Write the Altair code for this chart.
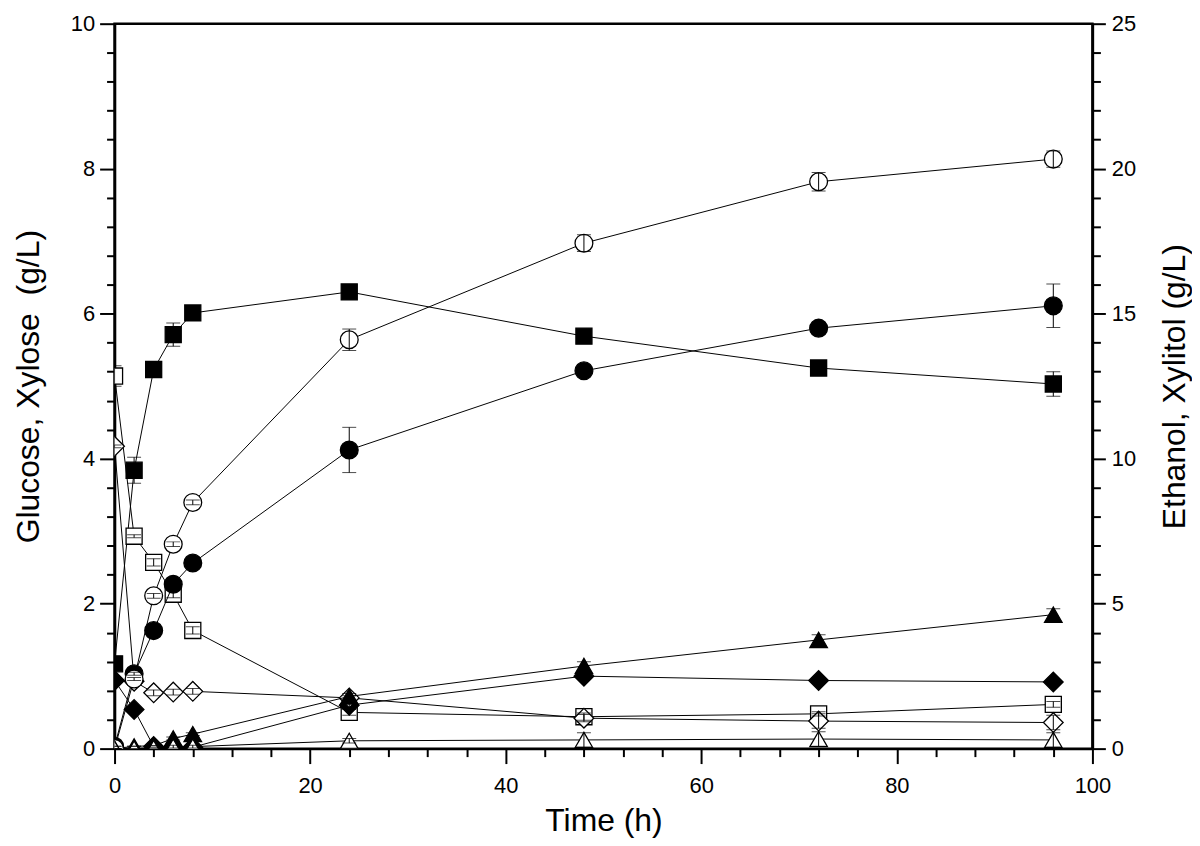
import altair as alt
import pandas as pd

# ---------------- data ----------------
time_h = [0, 2, 4, 6, 8, 24, 48, 72, 96]

# left axis (g/L): glucose & xylose
glucose_a = [1.17, 3.84, 5.23, 5.71, 6.01, 6.30, 5.69, 5.25, 5.03]
glucose_a_err = [0.03, 0.18, 0.03, 0.16, 0.03, 0.05, 0.04, 0.06, 0.17]
glucose_b = [5.14, 2.93, 2.57, 2.13, 1.63, 0.50, 0.44, 0.48, 0.61]
glucose_b_err = [0.14, 0.02, 0.05, 0.05, 0.05, 0.04, 0.05, 0.03, 0.04]
xylose_a = [0.94, 0.54, 0.03, 0.02, 0.02, 0.60, 1.00, 0.94, 0.92]
xylose_a_err = [0.02, 0.02, 0.0, 0.0, 0.0, 0.03, 0.03, 0.03, 0.03]
xylose_b = [4.17, 0.93, 0.77, 0.78, 0.79, 0.70, 0.42, 0.38, 0.36]
xylose_b_err = [0.02, 0.02, 0.04, 0.04, 0.04, 0.03, 0.05, 0.1, 0.1]

# right axis (g/L): ethanol & xylitol
ethanol_a = [0.08, 2.58, 4.07, 5.67, 6.40, 10.30, 13.03, 14.50, 15.27]
ethanol_a_err = [0.0, 0.05, 0.05, 0.05, 0.05, 0.78, 0.1, 0.2, 0.75]
ethanol_b = [0.0, 2.40, 5.27, 7.05, 8.49, 14.10, 17.43, 19.55, 20.33]
ethanol_b_err = [0.0, 0.05, 0.08, 0.08, 0.08, 0.37, 0.29, 0.32, 0.28]
xylitol_a = [0.0, 0.08, 0.10, 0.35, 0.50, 1.80, 2.85, 3.75, 4.62]
xylitol_a_err = [0.0, 0.0, 0.0, 0.05, 0.05, 0.1, 0.15, 0.18, 0.2]
xylitol_b = [0.0, 0.0, 0.02, 0.07, 0.07, 0.27, 0.30, 0.33, 0.30]
xylitol_b_err = [0.0, 0.0, 0.0, 0.05, 0.05, 0.08, 0.25, 0.25, 0.25]

# ---------------- styles ----------------
marker_size = {"square": 260, "circle": 320, "diamond": 390, "triangle-up": 310}

left_series = [
    ("Glucose A", glucose_a, glucose_a_err, "square", "black"),
    ("Glucose B", glucose_b, glucose_b_err, "square", "white"),
    ("Xylose A", xylose_a, xylose_a_err, "diamond", "black"),
    ("Xylose B", xylose_b, xylose_b_err, "diamond", "white"),
]
right_series = [
    ("Ethanol A", ethanol_a, ethanol_a_err, "circle", "black"),
    ("Ethanol B", ethanol_b, ethanol_b_err, "circle", "white"),
    ("Xylitol A", xylitol_a, xylitol_a_err, "triangle-up", "black"),
    ("Xylitol B", xylitol_b, xylitol_b_err, "triangle-up", "white"),
]


def build(series_list):
    rows = []
    for name, vals, errs, shape, fill in series_list:
        for t, v, e in zip(time_h, vals, errs):
            rows.append({"time": t, "value": v, "lo": v - e, "hi": v + e,
                         "series": name, "shape": shape, "fill": fill,
                         "size": marker_size[shape]})
    return pd.DataFrame(rows)


df_left = build(left_series)
df_right = build(right_series)

FONT = "Liberation Sans"

x_vals = list(range(0, 101, 4))
left_vals = [round(0.4 * k, 1) for k in range(26)]
right_vals = list(range(0, 26))


def major_test(step):
    return f"abs(datum.value/{step} - round(datum.value/{step})) < 0.01"


def major_label(step):
    return f"{major_test(step)} ? format(datum.value, 'd') : ''"


x_axis = alt.Axis(
    values=x_vals, title="Time (h)",
    tickSize={"condition": {"test": major_test(20), "value": 15}, "value": 8},
    labelExpr=major_label(20),
    labelPadding=12, titlePadding=9, labelFlush=False, labelOverlap=False,
)
left_axis = alt.Axis(
    values=left_vals, title="Glucose, Xylose \u00a0(g/L)", orient="left",
    tickSize={"condition": {"test": major_test(2), "value": 15}, "value": 8},
    labelExpr=major_label(2),
    labelPadding=5, titlePadding=25, labelFlush=False, labelOverlap=False,
)
right_axis = alt.Axis(
    values=right_vals, title="Ethanol, Xylitol (g/L)", orient="right",
    tickSize={"condition": {"test": major_test(5), "value": 13}, "value": 8},
    labelExpr=major_label(5),
    labelPadding=6, titlePadding=24, titleAngle=270, titleBaseline="top",
    labelFlush=False, labelOverlap=False,
)

x_enc = alt.X("time:Q", scale=alt.Scale(domain=[0, 100], nice=False), axis=x_axis)


def group(df, domain, axis):
    ysc = alt.Scale(domain=domain, nice=False)
    base = alt.Chart(df)
    line = base.mark_line(color="black", strokeWidth=1, clip=True).encode(
        x=x_enc, y=alt.Y("value:Q", scale=ysc, axis=axis), detail="series:N"
    )
    pts = base.mark_point(filled=True, stroke="black", strokeWidth=1.3,
                          opacity=1, clip=True).encode(
        x=x_enc, y=alt.Y("value:Q", scale=ysc, axis=axis),
        shape=alt.Shape("shape:N", scale=None),
        fill=alt.Fill("fill:N", scale=None),
        size=alt.Size("size:Q", scale=None),
    )
    err = base.mark_errorbar(
        ticks=alt.MarkConfig(size=14, color="black"), color="black",
        thickness=1, clip=True
    ).encode(
        x=x_enc, y=alt.Y("lo:Q", scale=ysc, axis=axis), y2="hi:Q",
        detail="series:N",
    )
    return alt.layer(line, pts, err)


left = group(df_left, [0, 10], left_axis)
right = group(df_right, [0, 25], right_axis)

chart = (
    alt.layer(left, right)
    .resolve_scale(y="independent")
    .properties(
        width=982, height=728,
        autosize=alt.AutoSizeParams(type="none"),
        padding={"left": 107, "top": 14, "right": 100, "bottom": 90},
        background="white",
    )
    .configure_view(stroke="black", strokeWidth=2.5)
    .configure_axis(
        domainColor="black", domainWidth=2.5, tickColor="black", tickWidth=2,
        labelFont=FONT, labelFontSize=22, labelColor="black",
        titleFont=FONT, titleFontSize=32, titleFontWeight="normal",
        titleColor="black", grid=False,
    )
)

chart.save("out.html", embed_options={"renderer": "svg", "actions": False})
